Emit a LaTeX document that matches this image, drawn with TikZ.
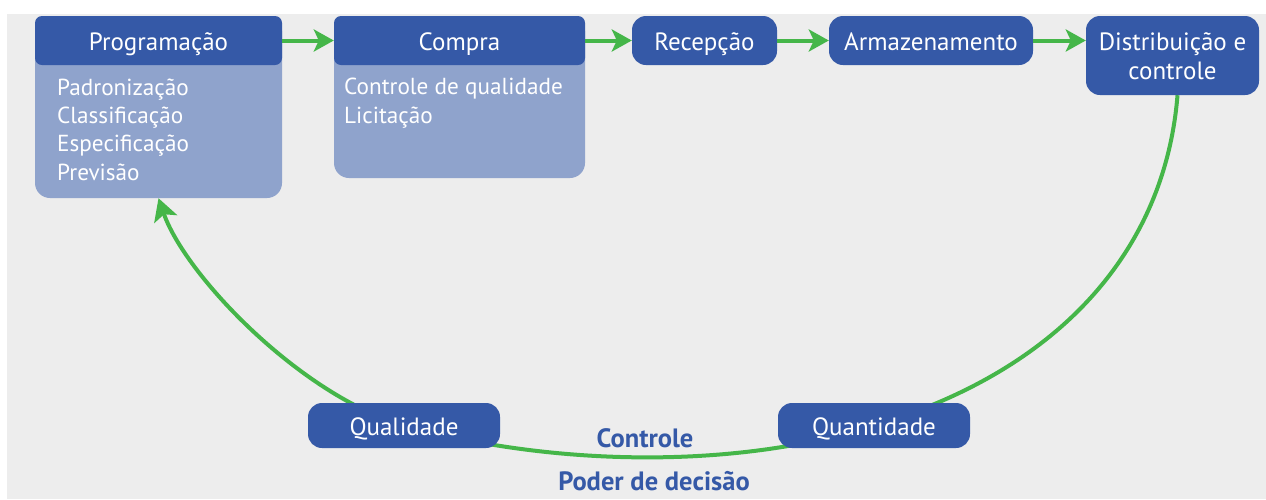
\documentclass[tikz,border=0pt]{standalone}
\usepackage{fontspec}
\setmainfont{PT Sans}
\usetikzlibrary{arrows.meta}
\definecolor{dkblue}{HTML}{3559A7}
\definecolor{ltblue}{HTML}{8FA3CC}
\definecolor{grn}{HTML}{45B649}
\definecolor{bgray}{HTML}{EDEDED}
\pgfdeclarelayer{bgfill}
\pgfdeclarelayer{background}
\pgfsetlayers{bgfill,background,main}
\begin{document}
\begin{tikzpicture}[x=1pt,y=-1pt,
  box/.style={fill=dkblue, text=white, rounded corners=14pt, inner sep=0pt,
    font=\fontsize{25}{28.5}\selectfont, align=center, text height=19pt, text depth=0pt},
  hdr/.style={fill=dkblue, text=white, rounded corners=7pt, inner sep=0pt,
    font=\fontsize{25}{28.5}\selectfont, text height=19pt, text depth=0pt},
  body/.style={fill=ltblue, rounded corners=15pt, inner sep=0pt},
  items/.style={text=white, anchor=base west, inner sep=0pt, align=left,
    font=\fontsize{23.2}{28.3}\selectfont},
  flow/.style={draw=grn, line width=4pt, -{Stealth[length=20pt,width=22pt,inset=5pt]}},
  cyc/.style={draw=grn, line width=4pt},
  lbl/.style={text=dkblue, inner sep=0pt, anchor=base, font=\bfseries\fontsize{26.5}{30}\selectfont}]
\useasboundingbox (0,0) rectangle (1266,499);
\begin{pgfonlayer}{bgfill}
\fill[bgray] (7,14) rectangle (1266,499);
\end{pgfonlayer}
% boxes
\node[body, minimum width=247pt, minimum height=182pt] (progbody) at (158.5,107) {};
\node[hdr, minimum width=247pt, minimum height=49pt] (prog) at (158.5,40.5) {Programação};
\node[body, minimum width=251pt, minimum height=162pt] (comprabody) at (459.5,97) {};
\node[hdr, minimum width=251pt, minimum height=49pt] (compra) at (459.5,40.5) {Compra};
\node[box, minimum width=145pt, minimum height=49pt] (recep) at (704.5,40.5) {Recepção};
\node[box, minimum width=204pt, minimum height=49pt] (armaz) at (931,40.5) {Armazenamento};
\node[box, minimum width=173pt, minimum height=79pt, text height=47.5pt] (dist) at (1172.5,55.5) {Distribuição e\\controle};
\node[box, minimum width=192pt, minimum height=45pt] (qual) at (404,425.5) {Qualidade};
\node[box, minimum width=192pt, minimum height=45pt] (quant) at (874,425.5) {Quantidade};
% items (base anchor = baseline of last line)
\node[items] (progitems) at (57,180) {Padronização\\Classificação\\Especificação\\Previsão};
\node[items] (compraitems) at (344,123) {Controle de qualidade\\Licitação};
% labels
\node[lbl] (ctrl) at (645,447) {Controle};
\node[lbl] (poder) at (654,490) {Poder de decisão};
% flow arrows
\draw[flow] (prog) -- (compra);
\draw[flow] (compra) -- (recep);
\draw[flow] (recep) -- (armaz);
\draw[flow] (armaz.east) -- (armaz.east -| dist.west);
% cycle
\begin{pgfonlayer}{background}
\draw[cyc] ([xshift=5pt]dist.south) .. controls (1165,250) and (1060,370) .. (quant.center);
\draw[cyc] (quant.center) .. controls (740,468) and (560,468) .. (qual.center);
\draw[cyc, -{Stealth[length=22pt,width=24pt,inset=5pt]}] (qual.center) .. controls (300,395) and (185,275) .. (progbody.south);
\end{pgfonlayer}
\end{tikzpicture}
\end{document}
